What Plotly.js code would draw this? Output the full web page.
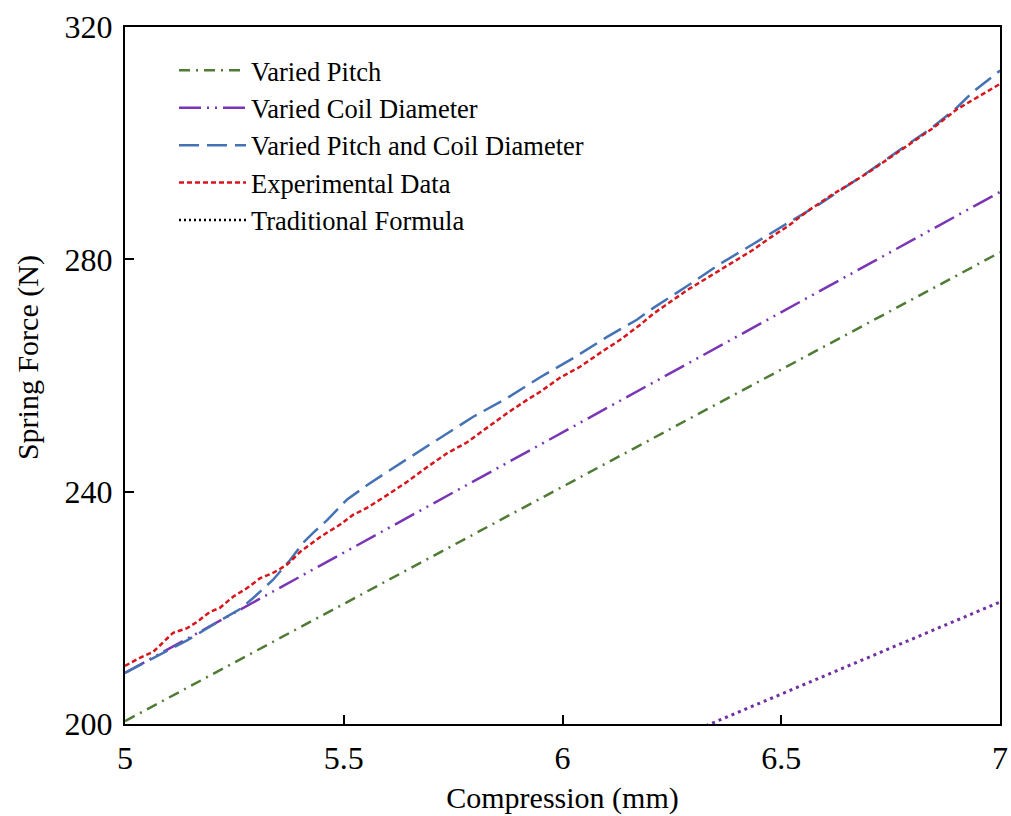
<!DOCTYPE html>
<html>
<head>
<meta charset="utf-8">
<script src="https://cdn.plot.ly/plotly-3.0.1.min.js"></script>
<style>html,body{margin:0;padding:0;background:#fff;}#chart{width:1011px;height:816px;}</style>
</head>
<body>
<div id="chart"></div>
<script>
// ---- data ----
const pitchX = [5.0, 7.0];
const pitchY = [200.5, 281.2];

const coilX = [5.0, 7.0];
const coilY = [208.8, 291.6];

const bothX = [5.0, 5.064, 5.142, 5.217, 5.263, 5.293, 5.338, 5.377, 5.407, 5.430, 5.462, 5.507, 5.553, 5.599, 5.659, 5.720, 5.796, 5.873, 5.949, 6.025, 6.101, 6.170, 6.207, 6.285, 6.360, 6.435, 6.513, 6.589, 6.696, 6.771, 6.847, 6.901, 6.938, 7.0];
const bothY = [208.8, 211.3, 214.4, 217.8, 219.8, 221.7, 224.8, 228.2, 231.2, 232.9, 235.1, 238.6, 241.1, 243.4, 246.3, 249.1, 252.9, 256.1, 259.7, 263.0, 266.6, 269.6, 271.6, 275.4, 279.2, 282.6, 286.1, 289.6, 294.9, 298.8, 302.8, 306.1, 308.8, 312.5];

const expX = [5.0, 5.034, 5.064, 5.087, 5.110, 5.142, 5.165, 5.194, 5.217, 5.247, 5.279, 5.309, 5.338, 5.370, 5.400, 5.446, 5.491, 5.521, 5.553, 5.599, 5.645, 5.690, 5.736, 5.782, 5.811, 5.842, 5.873, 5.919, 5.949, 5.994, 6.040, 6.086, 6.131, 6.177, 6.207, 6.285, 6.360, 6.435, 6.474, 6.513, 6.566, 6.618, 6.696, 6.771, 6.847, 6.901, 6.938, 7.0];
const expY = [210.0, 211.4, 212.4, 214.1, 215.7, 216.5, 217.6, 219.3, 220.0, 221.9, 223.4, 225.1, 226.0, 227.4, 229.6, 232.2, 234.3, 236.0, 237.2, 239.4, 241.7, 244.2, 246.6, 248.5, 250.1, 251.8, 253.5, 255.8, 257.2, 259.6, 261.5, 263.9, 266.1, 268.7, 270.6, 274.7, 278.2, 281.6, 283.7, 285.6, 288.6, 291.2, 294.8, 298.6, 302.6, 305.8, 307.4, 310.2];

const tradX = [5.0, 7.0];
const tradY = [157.6, 221.0];

const xTicks = [5, 5.5, 6, 6.5, 7];
const xTickText = ['5', '5.5', '6', '6.5', '7'];
const yTicks = [200, 240, 280, 320];

const xTitle = 'Compression (mm)';
const yTitle = 'Spring Force (N)';

const FONT = '"Liberation Serif", "Times New Roman", serif';

const traces = [
  {x: pitchX, y: pitchY, mode: 'lines', name: 'Varied Pitch',
   line: {color: '#4F7B35', width: 2.5, dash: '11px,6px,2px,6px'}},
  {x: coilX, y: coilY, mode: 'lines', name: 'Varied Coil Diameter',
   line: {color: '#7A35B5', width: 2.5, dash: '22px,6px,2px,6px,2px,6px'}},
  {x: bothX, y: bothY, mode: 'lines', name: 'Varied Pitch and Coil Diameter',
   line: {color: '#4472B4', width: 2.5, dash: '20px,8px'}},
  {x: expX, y: expY, mode: 'lines', name: 'Experimental Data',
   line: {color: '#D7151B', width: 2.5, dash: '5px,3px'}},
  {x: tradX, y: tradY, mode: 'lines', name: 'Traditional Formula', showlegend: false,
   line: {color: '#7030A0', width: 3, dash: '3px,4px'}},
  {x: [null], y: [null], mode: 'lines', name: 'Traditional Formula',
   line: {color: '#000000', width: 2.5, dash: '2px,3px'}}
];

const layout = {
  width: 1011, height: 816,
  margin: {l: 125, r: 11, t: 27, b: 92},
  paper_bgcolor: '#fff', plot_bgcolor: '#fff',
  font: {family: FONT, size: 27, color: '#000'},
  showlegend: true,
  legend: {x: 0.056, y: 0.972, xanchor: 'left', yanchor: 'top',
           bgcolor: 'rgba(0,0,0,0)', borderwidth: 0, itemwidth: 67,
           font: {family: FONT, size: 26.5, color: '#000'}},
  xaxis: {range: [5, 7], tickvals: xTicks, ticktext: xTickText,
          ticks: 'inside', ticklen: 9, tickwidth: 2, tickcolor: '#000',
          showline: true, linewidth: 2, linecolor: '#000', mirror: true,
          showgrid: false, zeroline: false, ticklabelstandoff: 5,
          tickfont: {family: FONT, size: 32, color: '#000'},
          title: {text: xTitle, font: {family: FONT, size: 30, color: '#000'}, standoff: 12}},
  yaxis: {range: [200, 320], tickvals: yTicks,
          ticks: 'inside', ticklen: 9, tickwidth: 2, tickcolor: '#000',
          showline: true, linewidth: 2, linecolor: '#000', mirror: true,
          showgrid: false, zeroline: false, ticklabelstandoff: 4,
          tickfont: {family: FONT, size: 32, color: '#000'}},
  annotations: [
    {text: yTitle, xref: 'paper', yref: 'paper', x: 0, y: 0.525,
     xanchor: 'center', yanchor: 'middle', xshift: -97, textangle: -90,
     showarrow: false, font: {family: FONT, size: 30, color: '#000'}}
  ]
};

Plotly.newPlot('chart', traces, layout, {displayModeBar: false, staticPlot: true});
</script>
</body>
</html>
